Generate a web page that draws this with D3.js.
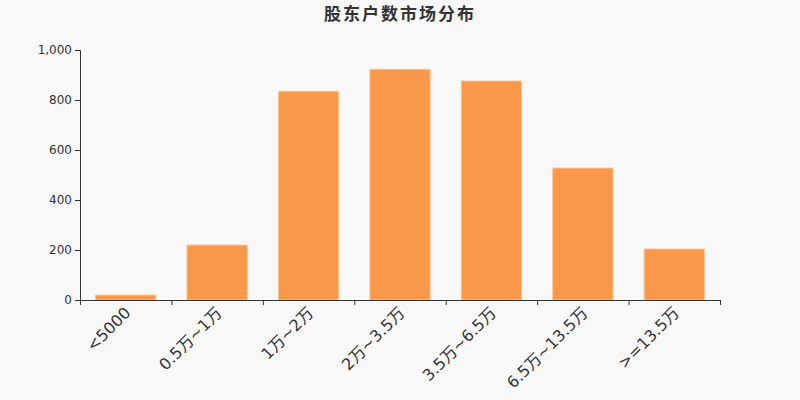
<!DOCTYPE html>
<html>
<head>
<meta charset="utf-8">
<script src="https://cdn.jsdelivr.net/npm/d3@7"></script>
<style>
  html, body { margin: 0; padding: 0; background: #f8f8f8; }
  svg { display: block; }
</style>
</head>
<body>
<svg id="chart" width="800" height="400"></svg>
<script>
const categories = ["<5000", "0.5万~1万", "1万~2万", "2万~3.5万", "3.5万~6.5万", "6.5万~13.5万", ">=13.5万"]
const holders = [20, 220, 835, 923, 876, 528, 204]
const yTicks = [0, 200, 400, 600, 800, 1000]

const svg = d3.select("#chart")
const ivp = { x: 80, y: 50, w: 720, h: 300 }

svg.append("rect")
    .attr("width", 800)
    .attr("height", 400)
    .attr("fill", "#f8f8f8")

// 标题
svg.append("text")
    .attr("x", 400)
    .attr("y", 20)
    .attr("text-anchor", "middle")
    .attr("font-family", "'Noto Sans CJK SC', sans-serif")
    .attr("font-size", 17)
    .attr("font-weight", "bold")
    .attr("letter-spacing", 2)
    .attr("fill", "#333")
    .text("股东户数市场分布")

const xScale = d3.scaleBand()
    .domain(categories)
    .range([ivp.x, ivp.w])
    .paddingInner(0.34)
    .paddingOuter(0.17)

// 刻度在类目边界上
const xEdge = d3.scaleLinear()
    .domain([0, categories.length])
    .range([ivp.x, ivp.w])

const yScale = d3.scaleLinear()
    .domain([0, 1000])
    .range([ivp.h, ivp.y])

// 柱子
svg.append("g")
    .selectAll("rect")
    .data(holders)
    .enter()
    .append("rect")
    .attr("x", (d, i) => xScale(categories[i]))
    .attr("y", d => yScale(d))
    .attr("width", xScale.bandwidth())
    .attr("height", d => yScale(0) - yScale(d))
    .attr("fill", "#f89848")
    .attr("stroke", "#fbc89c")
    .attr("stroke-width", 1)

// y 轴
const yAxis = svg.append("g")
    .attr("transform", `translate(${ivp.x},0)`)
    .call(d3.axisLeft(yScale).tickValues(yTicks).tickSize(5).tickPadding(3).tickFormat(d3.format(",")))
yAxis.select(".domain").attr("stroke", "#333")
yAxis.selectAll(".tick line").attr("stroke", "#333")
yAxis.selectAll("text")
    .attr("font-family", "'DejaVu Sans', sans-serif")
    .attr("font-size", 12)
    .attr("fill", "#333")

// x 轴
const xAxis = svg.append("g")
    .attr("transform", `translate(0,${ivp.h})`)
    .call(d3.axisBottom(xEdge).tickValues(d3.range(categories.length + 1)).tickSize(5).tickSizeOuter(0).tickFormat(""))
xAxis.select(".domain").attr("stroke", "#333")
xAxis.selectAll(".tick line").attr("stroke", "#333")

svg.append("g")
    .selectAll("text")
    .data(categories)
    .enter()
    .append("text")
    .attr("transform", d => `translate(${xScale(d) + xScale.bandwidth() / 2 - 2},${ivp.h + 6}) rotate(-45)`)
    .attr("text-anchor", "end")
    .attr("dy", "0.7em")
    .attr("font-family", "'DejaVu Sans', 'Noto Sans CJK SC', sans-serif")
    .attr("font-size", 16)
    .attr("fill", "#333")
    .text(d => d)
</script>
</body>
</html>
